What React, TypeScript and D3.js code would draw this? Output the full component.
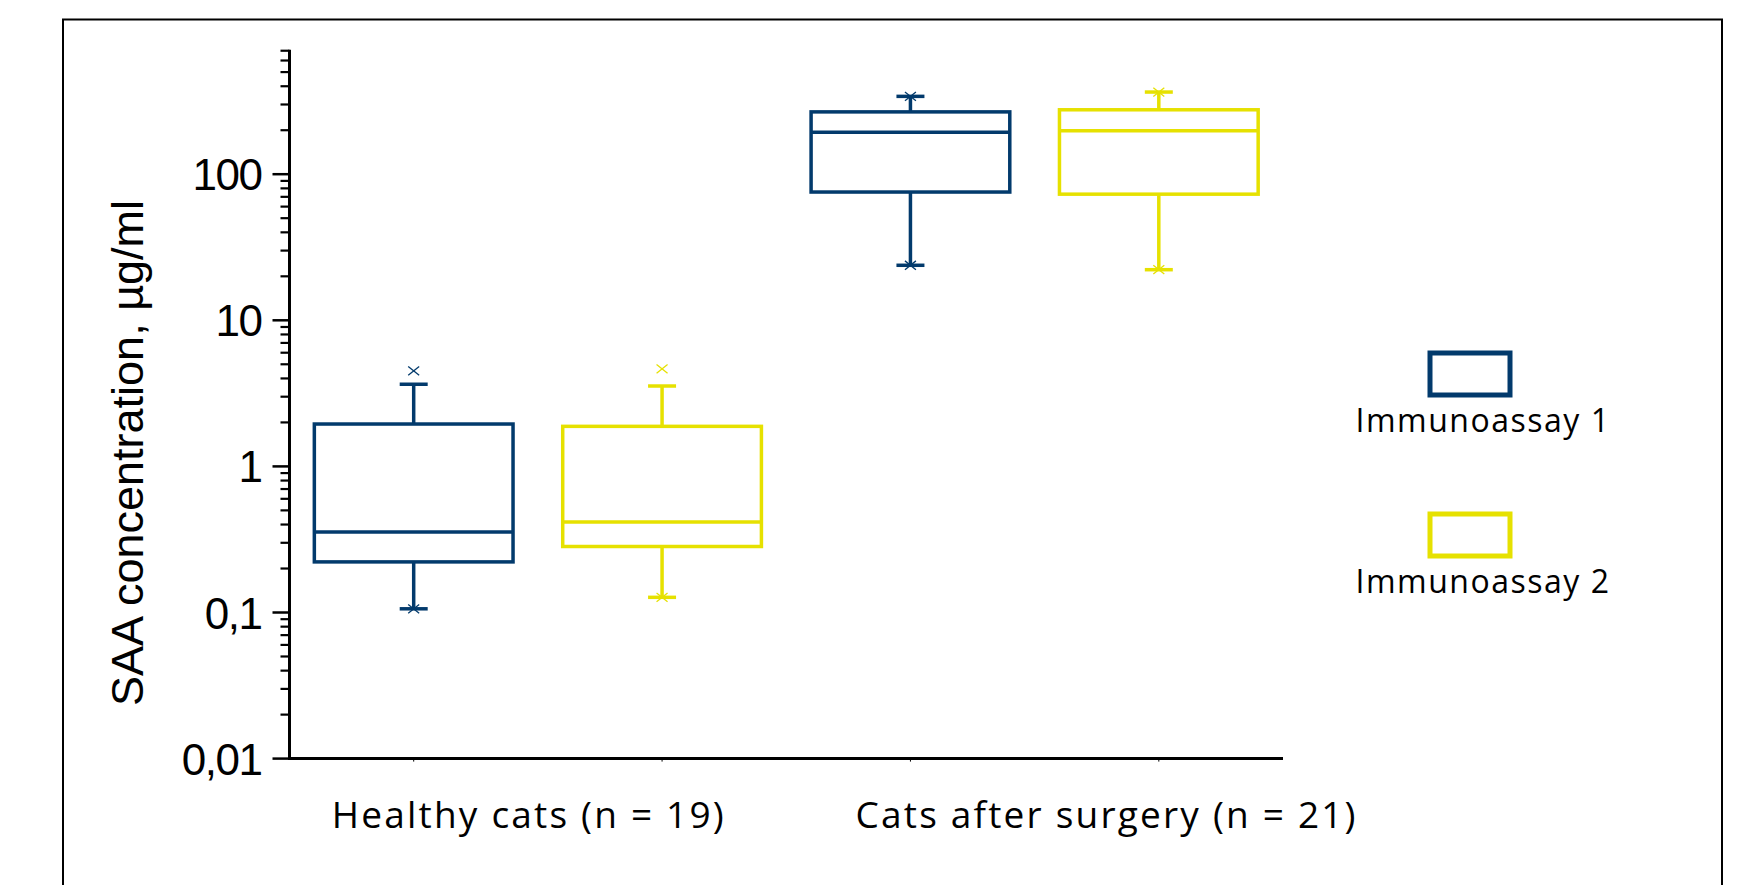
import * as d3 from "d3";

const WIDTH = 1739;
const HEIGHT = 885;
const MARGIN = { top: 28, right: 456, bottom: 126, left: 289.5 };

// data
const GROUPS = ["Healthy cats (n = 19)", "Cats after surgery (n = 21)"];
const SERIES = ["Immunoassay 1", "Immunoassay 2"];
const COLORS = ["#023a6c", "#e6e100"];
const Y_TICKS = [0.01, 0.1, 1, 10, 100];
const Y_TICK_LABELS = ["0,01", "0,1", "1", "10", "100"];
// [whisker low, q1, median, q3, whisker high] per group
const IA1_STATS = [
  [0.106, 0.222, 0.356, 1.95, 3.65],
  [23.8, 75.5, 194, 267, 341],
];
const IA2_STATS = [
  [0.127, 0.283, 0.417, 1.88, 3.55],
  [22.2, 73, 198, 276, 365],
];
// min / max markers (x)
const IA1_EXTREMES = [
  [0.106, 4.5],
  [23.8, 341],
];
const IA2_EXTREMES = [
  [0.127, 4.65],
  [22.2, 365],
];

const LABEL_DX = [-9, 72];

export default function App() {
  const boundsWidth = WIDTH - MARGIN.left - MARGIN.right;
  const yBottom = 758.6;

  const xScale = d3
    .scaleBand()
    .domain(GROUPS)
    .range([MARGIN.left, MARGIN.left + boundsWidth])
    .padding(0);
  const subScale = d3
    .scaleBand()
    .domain(SERIES)
    .range([0, xScale.bandwidth()])
    .padding(0);
  const boxWidth = subScale.bandwidth() * 0.8;

  const yScale = d3
    .scaleLog()
    .domain([0.01, 1000])
    .range([yBottom, yBottom - 5 * 146.1]);

  const yTop = yScale(700);

  // minor ticks 2..9 of each decade, up to 700
  const minorTicks: number[] = [];
  [0.01, 0.1, 1, 10, 100].forEach((dec) => {
    for (let k = 2; k <= 9; k++) {
      const v = dec * k;
      if (v <= 700) minorTicks.push(v);
    }
  });

  const allStats = [IA1_STATS, IA2_STATS];
  const allExtremes = [IA1_EXTREMES, IA2_EXTREMES];

  const boxes = GROUPS.flatMap((g, gi) =>
    SERIES.map((s, si) => {
      const [lo, q1, med, q3, hi] = allStats[si][gi];
      const cx = (xScale(g) ?? 0) + (subScale(s) ?? 0) + subScale.bandwidth() / 2;
      const color = COLORS[si];
      const capW = 14;
      const m = 5.5;
      return (
        <g key={g + s} stroke={color} fill="none">
          <line x1={cx} x2={cx} y1={yScale(hi)} y2={yScale(q3)} strokeWidth={3.5} />
          <line x1={cx} x2={cx} y1={yScale(q1)} y2={yScale(lo)} strokeWidth={3.5} />
          <line x1={cx - capW} x2={cx + capW} y1={yScale(hi)} y2={yScale(hi)} strokeWidth={3.5} />
          <line x1={cx - capW} x2={cx + capW} y1={yScale(lo)} y2={yScale(lo)} strokeWidth={3.5} />
          <rect
            x={cx - boxWidth / 2}
            y={yScale(q3)}
            width={boxWidth}
            height={yScale(q1) - yScale(q3)}
            strokeWidth={3.5}
          />
          <line
            x1={cx - boxWidth / 2}
            x2={cx + boxWidth / 2}
            y1={yScale(med)}
            y2={yScale(med)}
            strokeWidth={3.5}
          />
          {allExtremes[si][gi].map((v, i) => (
            <g key={i} strokeWidth={1.3}>
              <line x1={cx - m} x2={cx + m} y1={yScale(v) - m * 0.8} y2={yScale(v) + m * 0.8} />
              <line x1={cx - m} x2={cx + m} y1={yScale(v) + m * 0.8} y2={yScale(v) - m * 0.8} />
            </g>
          ))}
        </g>
      );
    })
  );

  const xTicks = GROUPS.flatMap((g) =>
    SERIES.map((s) => (xScale(g) ?? 0) + (subScale(s) ?? 0) + subScale.bandwidth() / 2)
  );

  return (
    <svg
      width={WIDTH}
      height={HEIGHT}
      style={{ position: "absolute", left: 0, top: 0, background: "#fff" }}
    >
      <rect x={63} y={19.5} width={1659} height={1000} fill="none" stroke="#000" strokeWidth={2} />

      {/* y axis */}
      <line x1={MARGIN.left} x2={MARGIN.left} y1={yTop - 1} y2={yBottom + 1.5} stroke="#000" strokeWidth={3} />
      {minorTicks.map((v, i) => (
        <line
          key={i}
          x1={MARGIN.left - 9}
          x2={MARGIN.left}
          y1={yScale(v)}
          y2={yScale(v)}
          stroke="#000"
          strokeWidth={2.2}
        />
      ))}
      {Y_TICKS.map((v, i) => (
        <g key={i}>
          <line
            x1={MARGIN.left - 17}
            x2={MARGIN.left}
            y1={yScale(v)}
            y2={yScale(v)}
            stroke="#000"
            strokeWidth={2.5}
          />
          <text
            x={MARGIN.left - 28}
            y={yScale(v) + 16}
            textAnchor="end"
            fontFamily="Liberation Sans, Arial, sans-serif"
            fontSize={44}
            letterSpacing={-1.5}
          >
            {Y_TICK_LABELS[i]}
          </text>
        </g>
      ))}
      <text
        transform={`translate(143,453) rotate(-90)`}
        textAnchor="middle"
        fontFamily="Liberation Sans, Arial, sans-serif"
        fontSize={45}
      >
        SAA concentration, µg/ml
      </text>

      {/* x axis */}
      <line
        x1={MARGIN.left}
        x2={MARGIN.left + boundsWidth}
        y1={yBottom}
        y2={yBottom}
        stroke="#000"
        strokeWidth={3}
      />
      {xTicks.map((x, i) => (
        <line key={i} x1={x} x2={x} y1={yBottom} y2={yBottom + 3} stroke="#000" strokeWidth={1} />
      ))}
      {GROUPS.map((g, i) => (
        <text
          key={g}
          x={(xScale(g) ?? 0) + xScale.bandwidth() / 2 + LABEL_DX[i]}
          y={828}
          textAnchor="middle"
          fontFamily="Open Sans, sans-serif"
          fontSize={37}
          letterSpacing={2.2}
        >
          {g}
        </text>
      ))}

      {boxes}

      {/* legend */}
      {SERIES.map((s, i) => (
        <g key={s}>
          <rect
            x={1430}
            y={353 + i * 161}
            width={80}
            height={42}
            fill="none"
            stroke={COLORS[i]}
            strokeWidth={5}
          />
          <text
            x={1483}
            y={432 + i * 161}
            textAnchor="middle"
            fontFamily="Open Sans, sans-serif"
            fontSize={32}
            letterSpacing={1.5}
          >
            {s}
          </text>
        </g>
      ))}
    </svg>
  );
}
